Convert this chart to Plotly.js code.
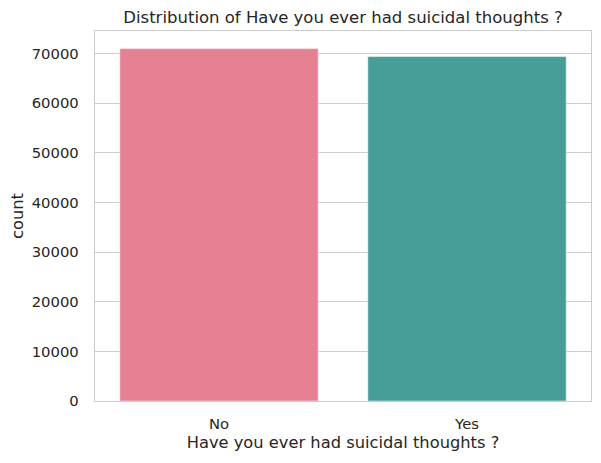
<!DOCTYPE html>
<html>
<head>
<meta charset="utf-8">
<script src="https://cdn.plot.ly/plotly-3.0.1.min.js"></script>
<style>html,body{margin:0;padding:0;background:#fff}#chart{width:601px;height:463px}</style>
</head>
<body>
<div id="chart"></div>
<script>
const categories = ["No", "Yes"];
const counts = [71000, 69400];
const barColors = ["#e68193", "#479d98"];
const yTicks = [0, 10000, 20000, 30000, 40000, 50000, 60000, 70000];

const font = "DejaVu Sans, sans-serif";
const txt = "#262626";

Plotly.newPlot("chart", [{
  type: "bar",
  x: categories,
  y: counts,
  width: 0.8,
  marker: {color: barColors, line: {color: "#ffffff", width: 0.5}},
  hoverinfo: "skip"
}], {
  width: 601, height: 463,
  margin: {l: 95, r: 10, t: 31, b: 62, pad: 0},
  paper_bgcolor: "#ffffff", plot_bgcolor: "#ffffff",
  font: {family: font, color: txt},
  title: {text: "Distribution of Have you ever had suicidal thoughts ?", font: {size: 16.5, color: txt, family: font}, x: 343 / 601, xanchor: "center", y: 0.963, yanchor: "middle"},
  xaxis: {
    range: [-0.5, 1.5], showgrid: false, zeroline: false,
    showline: true, linecolor: "#cccccc", linewidth: 1.25, mirror: true,
    ticks: "outside", ticklen: 9, tickcolor: "rgba(0,0,0,0)",
    tickfont: {size: 14.8, color: txt, family: font},
    title: {text: "Have you ever had suicidal thoughts ?", font: {size: 16.3, color: txt, family: font}, standoff: 5}
  },
  yaxis: {
    range: [0, Math.max(...counts) * 1.05],
    tickvals: yTicks, ticktext: yTicks.map(String),
    showgrid: true, gridcolor: "#cccccc", gridwidth: 1.1, zeroline: false,
    showline: true, linecolor: "#cccccc", linewidth: 1.25, mirror: true,
    ticks: "outside", ticklen: 12, tickcolor: "rgba(0,0,0,0)",
    tickfont: {size: 14.8, color: txt, family: font},
    title: {text: "count", font: {size: 16.3, color: txt, family: font}, standoff: 4}
  },
  showlegend: false
}, {staticPlot: true, displayModeBar: false});
</script>
</body>
</html>
